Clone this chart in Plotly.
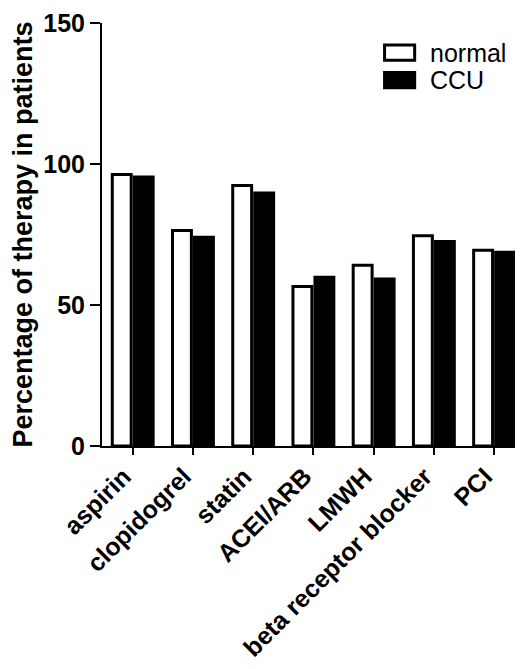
import plotly.graph_objects as go

categories = ["aspirin", "clopidogrel", "statin", "ACEI/ARB", "LMWH", "beta receptor blocker", "PCI"]
normal = [96.3, 76.4, 92.4, 56.6, 64.1, 74.6, 69.4]
ccu = [95.4, 74.0, 89.7, 59.8, 59.2, 72.5, 68.7]
y_ticks = [0, 50, 100, 150]
series_names = ["normal", "CCU"]

FONT = "Liberation Sans, Arial, sans-serif"

fig = go.Figure()
fig.add_trace(go.Bar(x=categories, y=normal, name=series_names[0],
                     marker=dict(color="white", line=dict(color="black", width=3))))
fig.add_trace(go.Bar(x=categories, y=ccu, name=series_names[1],
                     marker=dict(color="black", line=dict(color="black", width=3))))

fig.update_layout(
    width=523, height=669,
    margin=dict(l=94, r=11, t=15, b=231),
    barmode="group", bargap=0.27, bargroupgap=0.14,
    plot_bgcolor="white", paper_bgcolor="white",
    showlegend=False,
    font=dict(family=FONT, color="black"),
)
fig.update_xaxes(
    range=[-0.51, 6.43], showline=True, linecolor="black", linewidth=2,
    ticks="outside", ticklen=7, tickwidth=2, tickcolor="black",
    tickangle=-45, tickfont=dict(family=FONT, size=25, weight="bold"),
    ticklabelshift=-9, ticklabelstandoff=-3,
    showgrid=False, automargin=False,
)
fig.update_yaxes(
    range=[0, 150], tickvals=y_ticks, showline=True, linecolor="black", linewidth=2,
    ticks="outside", ticklen=10, tickwidth=2, tickcolor="black",
    tickfont=dict(family=FONT, size=25, weight="bold"),
    ticklabeloverflow="allow",
    showgrid=False, zeroline=False, automargin=False,
    title=dict(text="Percentage of therapy in patients", standoff=16,
               font=dict(family=FONT, size=27, weight="bold")),
)

# custom legend (large boxes as in the reference)
leg = [("white", series_names[0], 0.93), ("black", series_names[1], 0.865)]
for fill, name, yc in leg:
    fig.add_shape(type="rect", xref="paper", yref="paper",
                  x0=0.676, x1=0.748, y0=yc - 0.018, y1=yc + 0.018,
                  fillcolor=fill, line=dict(color="black", width=3))
    fig.add_annotation(xref="paper", yref="paper", x=0.78, y=yc, text=name,
                       showarrow=False, xanchor="left", yanchor="middle",
                       font=dict(family=FONT, size=25, color="black"))

fig.write_html("out.html")
